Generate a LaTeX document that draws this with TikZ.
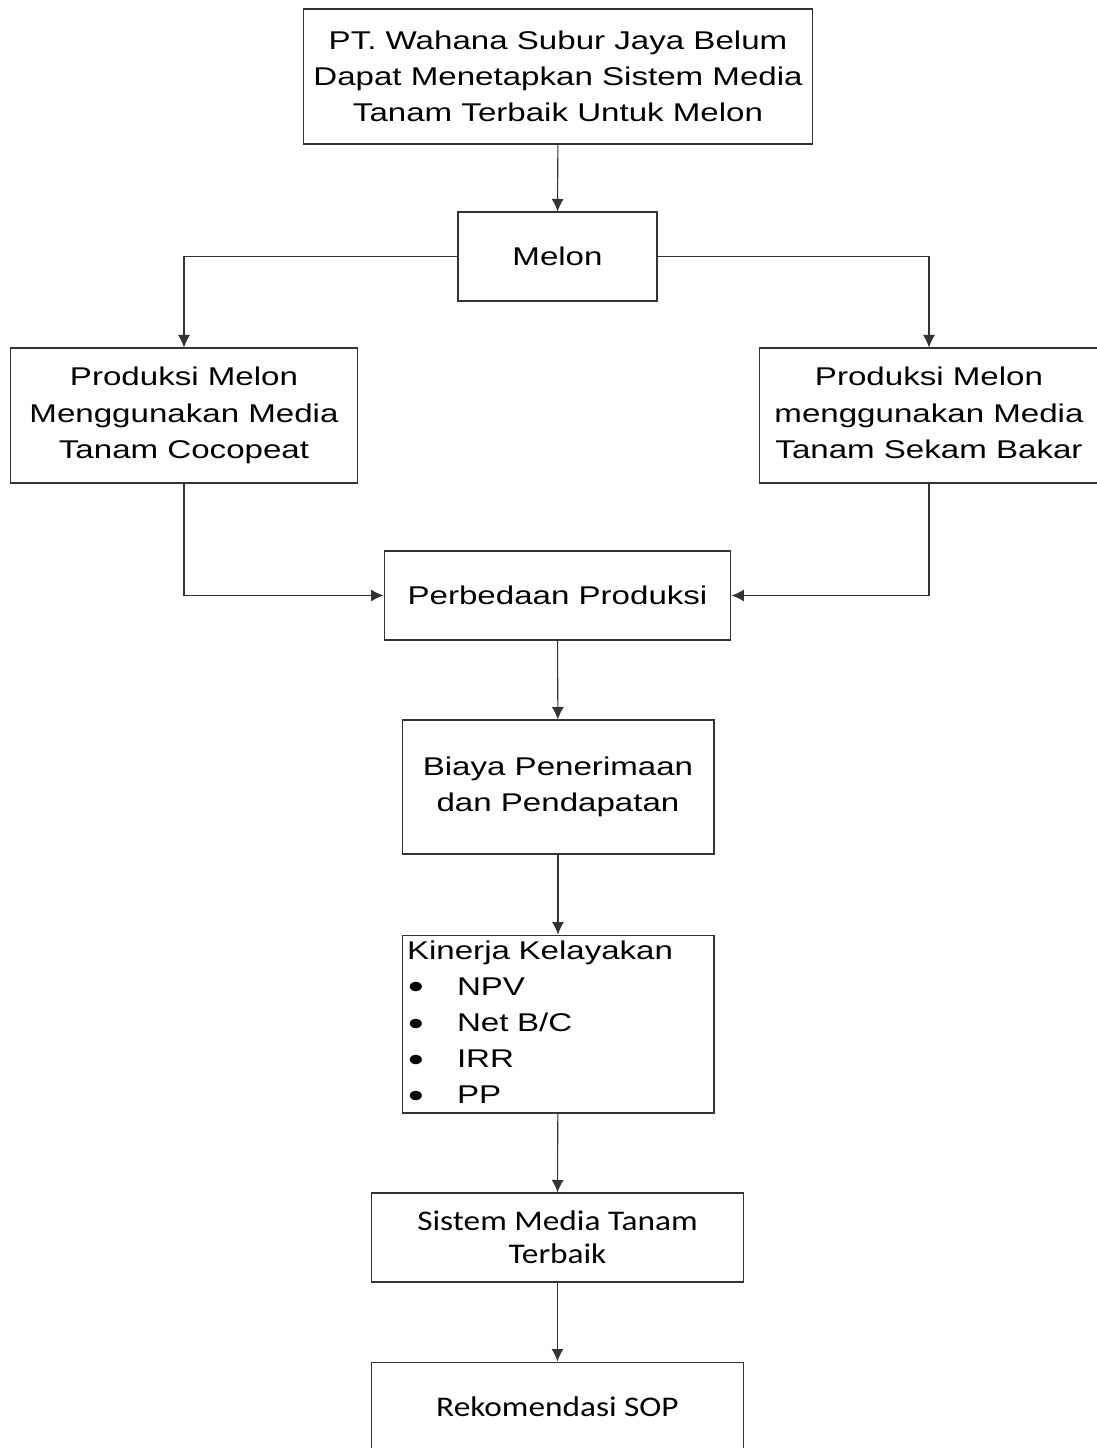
\documentclass[tikz,border=0pt]{standalone}
\usepackage{fontspec}
\setmainfont{Liberation Sans}[FakeStretch=1.29]
\newfontfamily\calibri{Carlito}[FakeStretch=1.17]
\usepackage{tikz}
\usetikzlibrary{arrows.meta}

\tikzset{
    box/.style={draw=black!80, line width=0.6pt, inner sep=0pt, align=center,
        font=\fontsize{14.6}{20.6}\selectfont},
    cbox/.style={box, font=\calibri\fontsize{16.2}{18.8}\selectfont},
    arr/.style={draw=black!80, line width=0.6pt, -{Latex[length=0.25cm,width=0.24cm]}}
}
\newcommand{\butir}{\hspace{0.02cm}\makebox[0.98cm][l]{\raisebox{-0.07cm}{\scalebox{1.35}{\textbullet}}}}

\begin{document}
\begin{tikzpicture}[x=0.02cm,y=-0.02cm]
        \useasboundingbox (0,0) rectangle (1097,1448);
        % top
        \node[box, minimum width=10.2cm, minimum height=2.7cm] (masalah) at (558,76.5)
            {PT. Wahana Subur Jaya Belum\\Dapat Menetapkan Sistem Media\\Tanam Terbaik Untuk Melon};
        \node[box, minimum width=3.98cm, minimum height=1.78cm] (melon) at (557.5,256.5) {Melon};
        % two media
        \node[box, minimum width=6.96cm, minimum height=2.7cm] (cocopeat) at (184,415.5)
            {Produksi Melon\\Menggunakan Media\\Tanam Cocopeat};
        \node[box, minimum width=6.78cm, minimum height=2.7cm] (sekam) at (929,415.5)
            {Produksi Melon\\menggunakan Media\\Tanam Sekam Bakar\vphantom{p}};
        % middle column
        \node[box, minimum width=6.94cm, minimum height=1.78cm] (beda) at (557.5,595.5) {Perbedaan Produksi};
        \node[box, minimum width=6.24cm, minimum height=2.68cm] (biaya) at (558,787)
            {Biaya Penerimaan\\dan Pendapatan};
        \node[box, minimum width=6.24cm, minimum height=3.56cm, inner xsep=0.1cm,
            text width=6.04cm, align=left] (kinerja) at (558,1024)
            {Kinerja Kelayakan\\
             \butir NPV\\
             \butir Net B/C\\
             \butir IRR\\
             \butir PP};
        % bottom
        \node[cbox, minimum width=7.46cm, minimum height=1.78cm] (terbaik) at (557.5,1237.5)
            {Sistem Media Tanam\\Terbaik};
        \node[cbox, minimum width=7.46cm, minimum height=1.8cm] (sop) at (557.5,1407) {Rekomendasi SOP};

        % arrows
        \draw[arr] (masalah) -- (melon);
        \draw[arr] (melon.west) -| (cocopeat.north);
        \draw[arr] (melon.east) -| (sekam.north);
        \draw[arr] (cocopeat.south) |- (beda.west);
        \draw[arr] (sekam.south) |- (beda.east);
        \draw[arr] (beda) -- (biaya);
        \draw[arr] (biaya) -- (kinerja);
        \draw[arr] (kinerja) -- (terbaik);
        \draw[arr] (terbaik) -- (sop);
    \end{tikzpicture}
\end{document}
